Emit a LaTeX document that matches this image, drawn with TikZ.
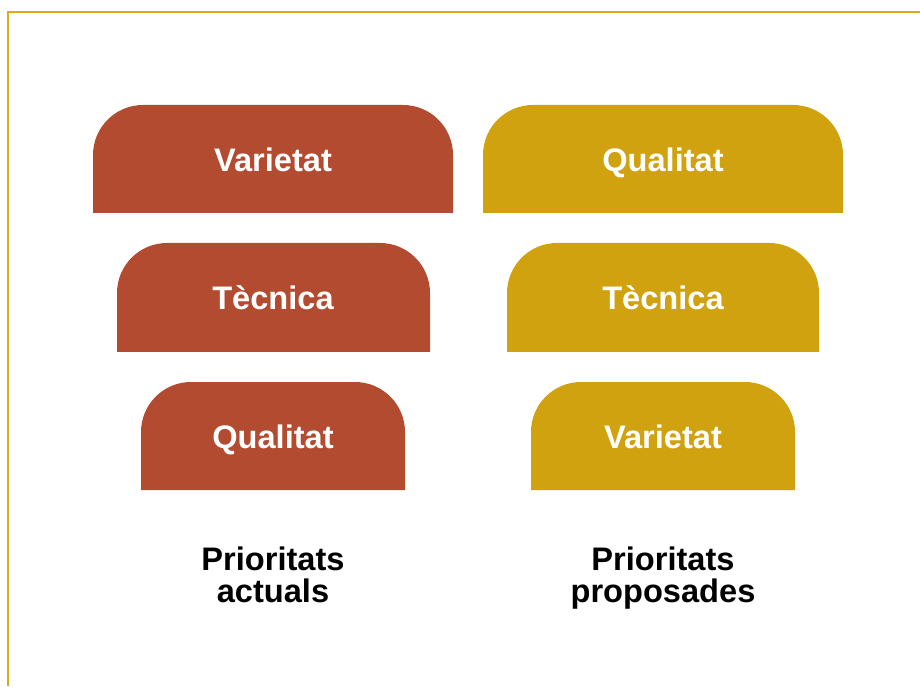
\documentclass[tikz,border=0pt]{standalone}
\usepackage{fontspec}
\setmainfont{Liberation Sans}
\definecolor{rust}{HTML}{B34B30}
\definecolor{mustard}{HTML}{D1A20F}
\definecolor{frame}{HTML}{DDAA1C}
% tab-shaped box: square bottom, rounded top corners
\newcommand\tabshape[5]{% colour, x1, x2, ybottom, ytop
  \fill[#1] (#2,#4) -- (#2,#5-50) arc[start angle=180,end angle=90,radius=50]
    -- (#3-50,#5) arc[start angle=90,end angle=0,radius=50] -- (#3,#4) -- cycle;}
\begin{document}
\begin{tikzpicture}[x=1pt,y=1pt,
  boxtext/.style={anchor=base,text=white,font=\fontsize{32.6}{32}\selectfont\bfseries,inner sep=0pt},
  caption/.style={anchor=base,text=black,align=center,font=\fontsize{32.6}{32}\selectfont\bfseries,inner sep=0pt}]
\useasboundingbox (0,0) rectangle (920,686);
\draw[frame,line width=1.2pt] (8,0) -- (8,674) -- (920,674);

% current priorities
\tabshape{rust}{93}{453}{473}{581}
\tabshape{rust}{117}{430}{334}{443}
\tabshape{rust}{141}{405}{196}{304}
\node[boxtext] (a1) at (273,514.5) {Varietat};
\node[boxtext] (a2) at (273,376.5) {Tècnica};
\node[boxtext] (a3) at (273,237.5) {Qualitat};

% proposed priorities
\tabshape{mustard}{483}{843}{473}{581}
\tabshape{mustard}{507}{819}{334}{443}
\tabshape{mustard}{531}{795}{196}{304}
\node[boxtext] (b1) at (663,514.5) {Qualitat};
\node[boxtext] (b2) at (663,376.5) {Tècnica};
\node[boxtext] (b3) at (663,237.5) {Varietat};

\node[caption] (ca) at (273,84) {Prioritats\\actuals};
\node[caption] (cb) at (663,84) {Prioritats\\proposades};
\end{tikzpicture}
\end{document}
